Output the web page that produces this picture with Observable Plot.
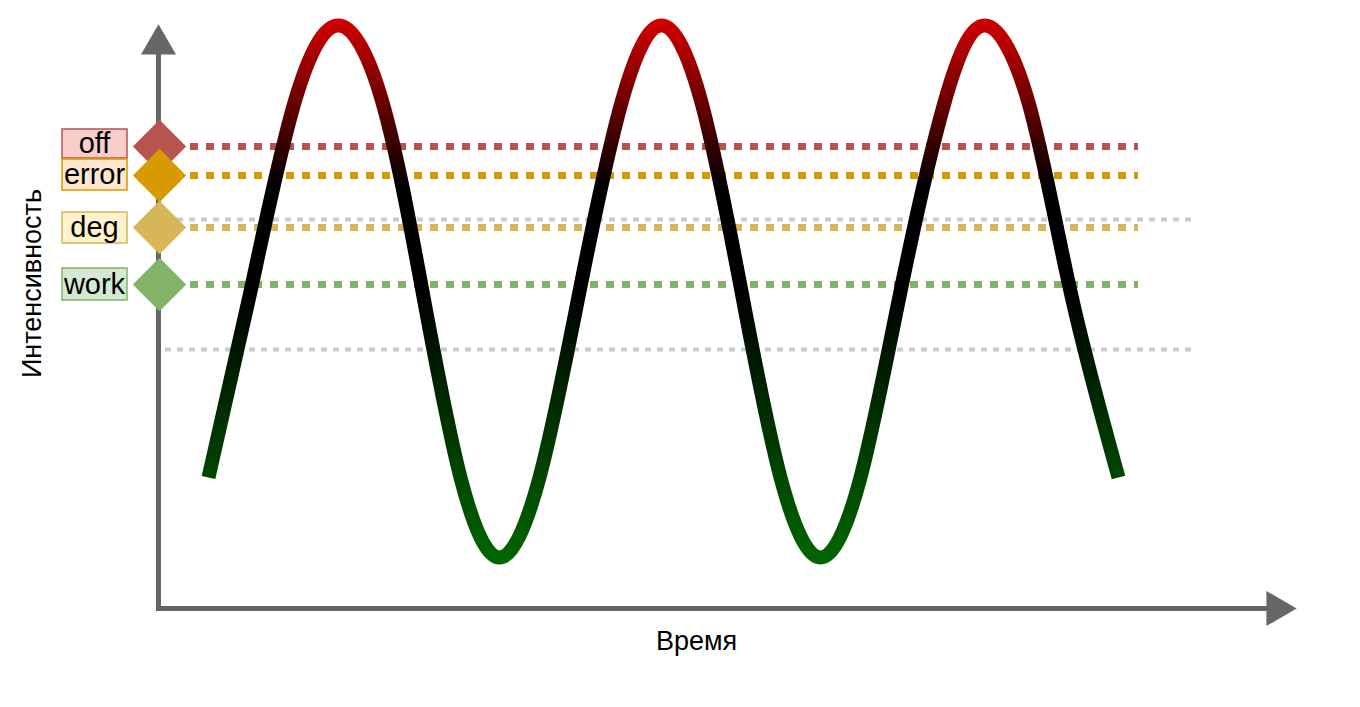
<!DOCTYPE html>
<html><head><meta charset="utf-8">
<script src="https://cdn.jsdelivr.net/npm/d3@7"></script>
<script src="https://cdn.jsdelivr.net/npm/@observablehq/plot@0.6"></script>
<style>body{margin:0;background:#fff}</style>
</head><body><div id="chart"></div>
<script>
// Diagram coordinate system: time (0..1360) and intensity (0 = top .. 707 = bottom)
const waveTime = [208,250,294,338,382,422,460,499,539,579,621,661,701,741,780,820,860,900,944,984,1028,1070,1118];
const waveLevel = [477,291,102,25,102,291,477,557,477,291,102,25,102,291,477,557,477,291,102,25,102,291,477];
const states = ["off","error","deg","work"];
const stateLevel = [146,175,227,284];
const stateFill = ["#b85450","#d79b00","#d6b656","#82b366"];
const boxFill = ["#f8cecc","#ffe6cc","#fff2cc","#d5e8d4"];
const boxTop = [129,159,212,268];
const boxBottom = [158,190,243,300];
const guideLevels = [219,349];
const wave = waveTime.map((t,i)=>({t, v: waveLevel[i]}));
const st = states.map((s,i)=>({s, v: stateLevel[i], fill: stateFill[i], box: boxFill[i], y1: boxTop[i], y2: boxBottom[i]}));
const F = "Liberation Sans, Arial, sans-serif";

const chart = Plot.plot({
  width: 1360, height: 707, margin: 0,
  x: {domain: [0,1360], axis: null},
  y: {domain: [707,0], axis: null},
  style: {fontFamily: F, background: "#fff"},
  marks: [
    Plot.ruleY(guideLevels, {y: d=>d, x1: 165, x2: 1195, stroke: "#cccccc", strokeWidth: 4, strokeDasharray: "6,6"}),
    Plot.ruleY(st, {y: "v", x1: 190, x2: 1138, stroke: "fill", strokeWidth: 7, strokeDasharray: "8,8"}),
    Plot.line(wave, {x: "t", y: "v", curve: "natural", stroke: "url(#waveGrad)", strokeWidth: 14, strokeLinecap: "butt"}),
    Plot.ruleX([158], {y1: 608, y2: 45, stroke: "#666", strokeWidth: 5}),
    Plot.ruleY([608], {x1: 156, x2: 1275, stroke: "#666", strokeWidth: 5}),
    Plot.dot([{x:158,y:44}], {x:"x", y:"y", symbol:"triangle", r: 13, fill:"#666", stroke:null}),
    Plot.dot([{x:1276,y:608}], {x:"x", y:"y", symbol:"triangle", r: 13, fill:"#666", stroke:null, rotate: 90}),
    Plot.dot(st, {x: 159, y: "v", symbol: "diamond2", r: 24, fill: "fill", stroke: null}),
    Plot.rect(st, {x1: 62, x2: 127, y1: "y1", y2: "y2", fill: "box", stroke: "fill", strokeWidth: 1.5}),
    Plot.text(st, {x: 94, y: d=>(d.y1+d.y2)/2, text: "s", fontSize: 29, fill: "#000"}),
    Plot.text(["Время"], {x: 696, y: 641, fontSize: 27, fill: "#000"}),
    Plot.text(["Интенсивность"], {x: 32, y: 283, rotate: -90, fontSize: 27, fill: "#000"})
  ]
});
const ns = "http://www.w3.org/2000/svg";
const defs = document.createElementNS(ns, "defs");
defs.innerHTML = `<linearGradient id="waveGrad" gradientUnits="userSpaceOnUse" x1="0" y1="25" x2="0" y2="560">
<stop offset="0" stop-color="#cc0000"/><stop offset="0.3" stop-color="#000"/><stop offset="0.5" stop-color="#000"/><stop offset="1" stop-color="#006600"/></linearGradient>`;
chart.insertBefore(defs, chart.firstChild);
document.getElementById("chart").appendChild(chart);
</script></body></html>
